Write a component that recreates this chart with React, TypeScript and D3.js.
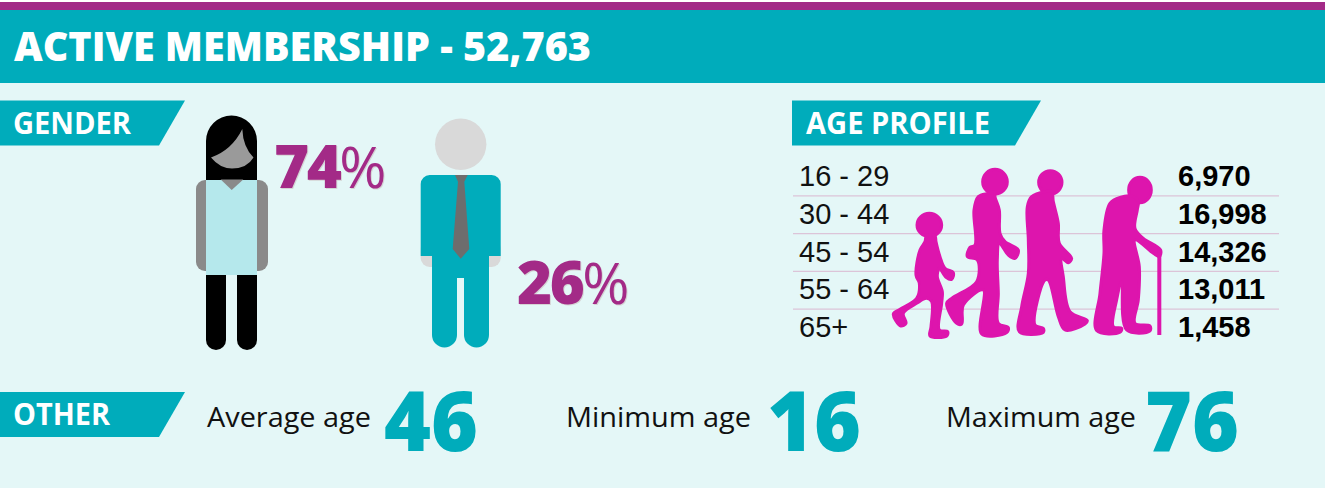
import React from "react";
import * as d3 from "d3";

// values
const totalMembers = 52763;
const genderShares = [74, 26];
const ageBands = ["16 - 29", "30 - 44", "45 - 54", "55 - 64", "65+"];
const ageCounts = [6970, 16998, 14326, 13011, 1458];
const otherLabels = ["Average age", "Minimum age", "Maximum age"];
const otherValues = [46, 16, 76];

const TEAL = "#00acbb";
const PURPLE = "#a32a87";
const MAGENTA = "#dd15ad";
const SANS = "'Open Sans', sans-serif";
const ARIAL = "'Liberation Sans', Arial, sans-serif";

const rowScale = d3.scaleBand<string>().domain(ageBands).range([158, 347]);
const fmt = d3.format(",");

// silhouettes, outlined in a 3x working space and scaled down when drawn
const outline = d3
  .line()
  .curve(d3.curveCatmullRomClosed.alpha(0.5));

const walkers: { head: number[]; body: [number, number][] }[] = [
  {
    head: [148, 195, 37, 35],
    body: [
      [140, 225], [165, 228], [168, 245], [180, 290], [195, 325], [220, 338], [215, 358], [198, 352],
      [178, 325], [172, 350], [187, 395], [185, 430], [178, 510], [203, 515], [200, 528], [150, 528],
      [153, 500], [155, 425], [140, 415], [110, 430], [70, 460], [78, 490], [62, 498], [40, 462],
      [60, 448], [110, 415], [118, 370], [108, 345], [120, 270], [135, 245]
    ]
  },
  {
    head: [345, 65, 37, 37],
    body: [
      [325, 100], [345, 95], [345, 110], [358, 150], [360, 220], [375, 245], [415, 270], [405, 295],
      [385, 285], [358, 250], [352, 300], [355, 400], [355, 490], [385, 503], [380, 518], [305, 522],
      [310, 390], [250, 435], [245, 492], [230, 490], [200, 430], [215, 415], [290, 365], [292, 300],
      [262, 290], [270, 262], [285, 255], [282, 150], [295, 110]
    ]
  },
  {
    head: [511, 67, 35, 35],
    body: [
      [495, 95], [515, 95], [520, 125], [535, 190], [538, 250], [575, 295], [565, 308], [545, 295],
      [550, 350], [570, 455], [622, 482], [615, 492], [555, 510], [535, 470], [505, 360], [495, 360],
      [465, 495], [490, 505], [490, 517], [418, 515], [425, 440], [445, 340], [445, 240], [442, 140],
      [455, 110]
    ]
  },
  {
    head: [780, 90, 34, 38],
    body: [
      [760, 110], [775, 125], [772, 150], [765, 205], [790, 235], [842, 270], [838, 290], [820, 280],
      [765, 240], [778, 320], [775, 420], [765, 490], [810, 498], [810, 513], [740, 510], [725, 365],
      [710, 420], [700, 500], [725, 505], [720, 517], [650, 512], [660, 400], [672, 280], [672, 210],
      [690, 130], [720, 112]
    ]
  }
];

function Ribbon({ x, y, w, label, labelX, labelW }: any) {
  const h = 45;
  return (
    <g>
      <path d={`M${x},${y}H${x + w}L${x + w - 26},${y + h}H${x}Z`} fill={TEAL} />
      <text
        x={labelX}
        y={y + 33}
        fontFamily={SANS}
        fontWeight={700}
        fontSize={30}
        fill="#fff"
        textLength={labelW}
        lengthAdjust="spacingAndGlyphs"
      >
        {label}
      </text>
    </g>
  );
}

function Percent({ x, y, value }: any) {
  return (
    <text
      x={x}
      y={y}
      fontFamily={SANS}
      fontSize={60}
      fill={PURPLE}
      letterSpacing={-2.5}
      style={{ filter: "drop-shadow(1.5px 1.5px 0 #d4d4d4)" }}
    >
      <tspan fontWeight={800}>{value}</tspan>
      <tspan fontWeight={400} fontSize={57}>%</tspan>
    </text>
  );
}

function Woman() {
  return (
    <g>
      <rect x={196} y={180} width={72} height={91} rx={9} fill="#8a8a8a" />
      <path d="M206,180V141a25.5,25.5 0 0 1 51,0V180Z" fill="#000" />
      <path d="M242.3,129Q232,150 211,157.5Q220,168.5 232,168.5Q247,168.5 253.5,157.5Q243,147 242.3,129Z" fill="#9a9a9a" />
      <rect x={206} y={180} width={51} height={95} fill="#b5e8ec" />
      <path d="M220.7,179.5L231.7,190L243.3,179.5Z" fill="#8a8a8a" />
      <path d="M206,275H226V340a10,10 0 0 1 -20,0Z" fill="#000" />
      <path d="M237,275H257V340a10,10 0 0 1 -20,0Z" fill="#000" />
    </g>
  );
}

function Man() {
  return (
    <g>
      <circle cx={460.7} cy={144.3} r={25.7} fill="#d9d9d9" />
      <rect x={420.7} y={240} width={80} height={27} rx={9} fill="#d9d9d9" />
      <path d="M420.7,256V184a9,9 0 0 1 9,-9H491.7a9,9 0 0 1 9,9V256H489V278H432V256Z" fill={TEAL} />
      <path d="M432,278H457V335a12.5,12.5 0 0 1 -25,0Z" fill={TEAL} />
      <path d="M464,278H489V335a12.5,12.5 0 0 1 -25,0Z" fill={TEAL} />
      <path d="M455,175H467.7L464.3,181.7L469.3,249L460.7,258.7L452.7,249L458,181.7Z" fill="#6d6d6d" />
    </g>
  );
}

export default function App() {
  return (
    <svg
      width={1325}
      height={488}
      viewBox="0 0 1325 488"
      style={{ position: "absolute", left: 0, top: 0, display: "block" }}
    >
      <rect x={0} y={0} width={1325} height={488} fill="#fff" />
      <rect x={0} y={83} width={1325} height={405} fill="#e4f7f7" />
      <rect x={0} y={10} width={1325} height={73} fill={TEAL} />
      <rect x={0} y={2} width={1325} height={8} fill={PURPLE} />
      <text
        x={14}
        y={60.5}
        fontFamily={SANS}
        fontWeight={800}
        fontSize={41}
        fill="#fff"
        textLength={577}
        lengthAdjust="spacingAndGlyphs"
      >
        {`ACTIVE MEMBERSHIP - ${fmt(totalMembers)}`}
      </text>

      <Ribbon x={0} y={100.5} w={185} label="GENDER" labelX={13} labelW={118} />
      <Woman />
      <Man />
      <Percent x={274} y={188} value={genderShares[0]} />
      <Percent x={517} y={304} value={genderShares[1]} />

      <Ribbon x={792} y={100.5} w={249} label="AGE PROFILE" labelX={806} labelW={184} />
      {ageBands.slice(0, -1).map(band => (
        <line
          key={band}
          x1={793}
          x2={1279}
          y1={(rowScale(band) as number) + rowScale.bandwidth()}
          y2={(rowScale(band) as number) + rowScale.bandwidth()}
          stroke="#dcc4d8"
          strokeWidth={1.2}
        />
      ))}
      {ageBands.map((band, i) => {
        const y = (rowScale(band) as number) + rowScale.bandwidth() / 2 + 9;
        return (
          <g key={band} fontFamily={ARIAL} fontSize={29}>
            <text x={799} y={y} fill="#111">{band}</text>
            <text x={1178} y={y} fill="#000" fontWeight={700}>{fmt(ageCounts[i])}</text>
          </g>
        );
      })}
      <g transform="translate(880,160) scale(0.3333)" fill={MAGENTA}>
        <g stroke={MAGENTA} strokeWidth={9} strokeLinejoin="round">
          {walkers.map((w, i) => (
            <g key={i}>
              <ellipse cx={w.head[0]} cy={w.head[1]} rx={w.head[2]} ry={w.head[3]} />
              <path d={outline(w.body) as string} />
            </g>
          ))}
        </g>
        <rect x={832} y={272} width={12} height={253} />
      </g>

      <Ribbon x={0} y={392} w={185} label="OTHER" labelX={13} labelW={97} />
      {otherLabels.map((label, i) => {
        const labelX = [207, 566, 946][i];
        const labelW = [164, 185, 190][i];
        const valueX = [384, 767, 1145][i];
        return (
          <g key={label}>
            <text
              x={labelX}
              y={427}
              fontFamily={SANS}
              fontSize={28}
              fill="#111"
              textLength={labelW}
              lengthAdjust="spacingAndGlyphs"
            >
              {label}
            </text>
            <text
              x={valueX}
              y={451}
              fontFamily={SANS}
              fontWeight={800}
              fontSize={84}
              fill={TEAL}
              textLength={94}
              lengthAdjust="spacingAndGlyphs"
            >
              {otherValues[i]}
            </text>
          </g>
        );
      })}
    </svg>
  );
}
